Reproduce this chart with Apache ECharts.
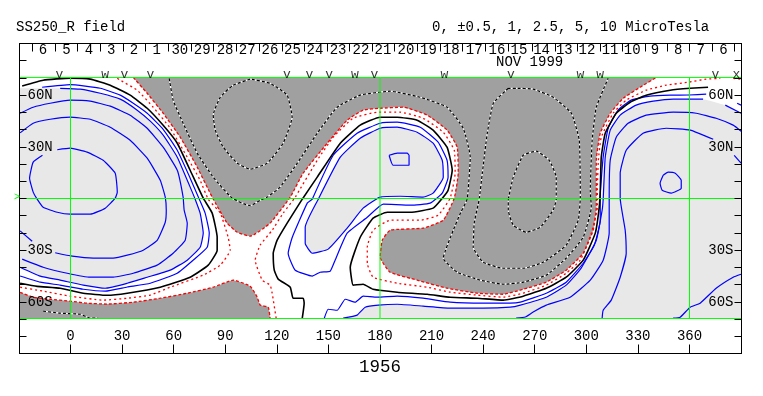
<!DOCTYPE html>
<html>
<head>
<meta charset="utf-8">
<script src="https://cdn.jsdelivr.net/npm/echarts@6/dist/echarts.min.js"></script>
<style>
html, body { margin: 0; padding: 0; background: #fff; }
#chart { width: 763px; height: 396px; }
</style>
</head>
<body>
<div id="chart"></div>
<script>
// axis values
const lonTicks = [0, 30, 60, 90, 120, 150, 180, 210, 240, 270, 300, 330, 360];
const latTicks = [-80, -70, -60, -50, -40, -30, -20, -10, 0, 10, 20, 30, 40, 50, 60, 70, 80];
const latLabels = [-60, -30, 30, 60];
const dayTicks = [-22.3, -8.9, 4.1, 17.3, 30.5, 43.4, 56.8, 70, 83, 96.4, 109.6, 123, 135.9, 149.1, 162.1, 175.3, 188.4, 201.8, 215, 228, 241.2, 254.4, 268.7, 281.7, 294.7, 307.9, 321, 334, 347, 359.8, 373, 386];
const dayLons = [-16.05, -2.3, 10.7, 23.6, 36.9, 50.2, 63.6, 76.6, 89.9, 102.8, 116, 129.1, 142.2, 155.6, 168.9, 181.7, 195.1, 208.2, 221.4, 234.8, 248, 260.8, 274, 287.2, 300.4, 313.8, 326.7, 339.9, 353.5, 366.5, 379.8];
const dayNames = [6, 5, 4, 3, 2, 1, 30, 29, 28, 27, 26, 25, 24, 23, 22, 21, 20, 19, 18, 17, 16, 15, 14, 13, 12, 11, 10, 9, 8, 7, 6];
const stationLons = [-6.4, 20.2, 31.4, 46.4, 125.9, 139, 150.5, 165.4, 176.8, 217.5, 256.1, 296.6, 308, 375.1, 387.3];
const stationMarks = ["v", "w", "v", "v", "v", "v", "v", "w", "v", "w", "v", "w", "w", "v", "x"];

// contours, [lon, lat]
const blueLeft1 = [[-16.3,25.1],[-21.7,21.1],[-23.8,11.8],[-21.7,3.7],[-19.4,-0.4],[-15.9,-5.1],[-7.7,-8],[-0.2,-9.1],[11.5,-9.1],[20.2,-5.6],[26,0.2],[27.2,3.7],[26,14.7],[19,22.2],[9.7,26.9],[-0.2,29.2],[-7.7,28.3]];
const blueLeft2 = [[-29.3,38.1],[-21.7,43.7],[-11.8,46],[-0.2,47.2],[11.5,46],[23.1,41.4],[34.7,33.8],[44.6,23.4],[52.2,10.6],[55.1,0.8],[55.7,-6.8],[55.1,-13.8],[50.4,-24.3],[42.3,-30],[33,-32.9],[24.8,-34.6],[13.2,-34.6],[1,-33.5],[-8.9,-31.5]];
const blueLeft2b = [[-29.3,-18.8],[-22.3,-24.8]];
const blueLeft3 = [[-29.3,49.5],[-21.7,53],[-11.8,55.3],[-0.2,57.1],[11.5,56.5],[23.1,53.6],[34.7,48.4],[44.6,40.8],[53.9,29.8],[62.1,16.4],[65.5,0.8],[66.1,-6.8],[67.9,-14.3],[66.7,-24.2],[59.7,-31.8],[50.4,-38.7],[36.5,-43.4],[24.8,-45.7],[11.5,-45.7],[-1.9,-43.4],[-15.9,-39.9],[-28.1,-35.2]];
const blueLeftOuter = [[-16.5,64.6],[-0.2,66.1],[17.3,64],[28.9,60],[36.5,55.3],[44.6,49.5],[53.9,40.2],[62.1,28],[69.6,11.8],[74.9,-0.4],[78.3,-8.5],[80.7,-20.1],[79.5,-28.3],[71.4,-35.8],[62.1,-43.4],[46.4,-49.2],[33,-51.4],[20.2,-53.8],[7.4,-52.7],[-6,-50.3],[-17.6,-48.6],[-29.3,-45]];
const blueLeftInner = [[-6,64],[5.6,63.5],[17.3,61.1],[28.9,57.7],[38.8,51.3],[46.4,44.9],[53.9,36.8],[62.1,24],[69.6,6.6],[72.5,-0.4],[75.4,-8.5],[77.2,-20.1],[75.4,-28.3],[67.9,-35.8],[58,-41.6],[44.6,-45.7],[33,-49.2],[20.2,-52.1],[7.4,-50.3],[-6,-47.4],[-17.6,-45.1],[-29.3,-39.9]];
const blackLeft = [[-28.1,65.3],[-15.9,68.7],[-0.2,69.9],[11.5,69.3],[23.1,65.8],[34.7,60],[44.6,52.4],[53.9,42.5],[62.1,32.1],[69.6,16.4],[77.2,0.2],[82.4,-8.5],[85.3,-22.5],[85.3,-30],[80.1,-38.7],[69.6,-45.7],[52.2,-51.5],[33,-55],[21.3,-56.2],[7.4,-55],[-6,-52.1],[-19.4,-51],[-29.3,-49.2]];
const redLeft = [[27.2,69.8],[28.9,68.7],[38.8,62.9],[48.1,53],[58,40.8],[67.9,24],[75.4,10.6],[80.1,-0.4],[87.1,-8.5],[91.7,-22.5],[92.9,-30],[87.1,-38.7],[77.2,-44.5],[58,-51.5],[46.4,-56.1],[33,-57.9],[19,-59],[-0.2,-56.7],[-15.9,-53.8],[-29.3,-51.5]];
const redMid = [[119.6,-69.5],[117.3,-55],[116.1,-50.3],[111.5,-47.4],[107.4,-35.8],[110.3,-27.1],[117.3,-18.4],[123.7,-8.5],[130.7,0.8],[143.5,22.2],[152.8,35.6],[164.4,46.6],[178.4,50.1],[191.8,50.1],[205.1,46.6],[216.8,38.5],[223.2,28],[223.7,14.7],[220.8,0.2],[213.8,-9.7],[203.4,-12.6],[185.9,-12.6],[176,-18.4],[172.6,-28.3],[172.6,-37.6],[176,-45.7],[190,-49.2],[207.5,-51.5],[220.8,-54.4],[236.5,-56.1],[251.7,-57.3],[263.3,-55],[276.7,-50.3],[288.3,-43.4],[296.5,-35.8],[302.9,-20.1],[306.4,-5.1],[306.4,4.8],[307,22.2],[308.7,35.6],[315.6,49.5],[323.2,57.1],[334.8,62.9],[346.5,65.8],[359.2,67.5],[369.7,69.3],[377.9,69.8]];
const redCorner = [[385.4,69.8],[390,69.3]];
const darkEdge = [[36.5,70.3],[44.6,61.1],[53.9,49.5],[63.8,35.6],[73.7,18.2],[82.4,0.8],[91.1,-14.3],[97,-19.6],[104.5,-21.9],[116.1,-14.3],[127.8,0.8],[135.3,14.7],[149.3,32.1],[160.9,45.5],[170.2,51.3],[180.1,52.4],[193.5,53],[207.5,48.4],[219,39.7],[224.9,29.8],[225.5,14.7],[223.2,0.2],[216.8,-12.6],[205.1,-17.2],[185.9,-18.4],[181.3,-24.2],[180.1,-34.1],[185.9,-42.8],[201.6,-47.4],[219,-52.1],[236.5,-55],[251.7,-55.6],[263.3,-52.7],[276.7,-48.6],[288.3,-41.6],[298.2,-31.8],[304,-18.4],[305.8,-5.1],[305.8,4.8],[305.8,22.2],[308.1,37.9],[313.9,49.5],[321.5,58.2],[331.3,64.6],[340.7,70.3]];
const darkEdgeLow = [[-29.3,-54.5],[-21.7,-57.3],[-11.8,-58.5],[-0.2,-59.6],[9.7,-60.8],[21.3,-61.3],[36.5,-60.2],[52.2,-57.9],[67.9,-55],[83,-51.5],[94.6,-47.4],[104.5,-50.9],[108.6,-57.3],[110.3,-61.9],[115,-63.1],[116.1,-69.7]];
const blackMid = [[134.8,-69.5],[135.9,-60.8],[135.3,-57.9],[129.5,-57.9],[127.8,-51.5],[120.8,-46.8],[118.5,-41.6],[117.9,-31.8],[120.2,-24.2],[126,-14.3],[134.8,-0.4],[143.5,12.4],[156.9,32.1],[168.5,42.6],[180.1,47.2],[190,47.2],[201.6,45.5],[210.9,39.7],[219,29.8],[222,16.4],[219.6,4.8],[216.8,0.8],[210.9,-5.6],[197.6,-8],[184.2,-8],[176,-11.4],[168.5,-22.5],[162.7,-39.9],[164.4,-50.3],[170.2,-49.8],[176,-52.7],[190,-54.4],[207.5,-55.6],[220.8,-57.3],[236.5,-57.9],[251.7,-59],[263.3,-56.7],[276.7,-52.1],[288.3,-45.7],[298.2,-35.8],[305.2,-20.1],[307.5,-5.1],[308.1,4.8],[308.7,24],[311,37.9],[317.4,49.5],[325.5,55.9],[334.8,60],[348.8,62.9],[360.4,64],[370.8,64.6]];
const blueRightOuter = [[147.6,-69.5],[149.9,-64.3],[155.1,-64.9],[159.8,-58.5],[165.6,-60.2],[170.2,-56.7],[178.4,-57.3],[190,-56.7],[205.1,-57.9],[220.8,-60.2],[240,-60.8],[255.7,-60.8],[261.6,-60.2],[276.7,-55],[288.3,-48.6],[298.2,-37.6],[304.6,-27.1],[308.1,-12.6],[308.1,0.8],[309.8,24],[312.7,40.8],[318.5,51.3],[326.1,57.1],[337.1,59.4],[348.8,60],[359.8,60.1],[369.7,60.6]];
const blueRightOuterB = [[387.7,55.3],[390,54.2]];
const blueRightInner = [[158.6,-69.5],[166.7,-67.7],[171.4,-63.1],[179,-61.9],[190,-61.4],[205.1,-62.5],[220.8,-63.7],[240,-63.7],[255.7,-63.1],[261.6,-61.9],[276.7,-57.3],[288.3,-50.3],[297,-40.4],[305.8,-24.2],[309.2,-6.8],[309.8,-0.4],[311,24],[313.9,39.7],[319.7,48.4],[329,54.2],[338.9,56.5],[350.5,57.7],[367.9,57.7]];
const blueRightInnerB = [[380.8,54.2],[390,49.5]];
const blueRight3 = [[259.2,-69.5],[264.5,-68.8],[269.1,-65.9],[276.7,-61.9],[290.6,-57.3],[302.3,-47.4],[309.8,-35.8],[313.3,-20.1],[313.3,-0.4],[313.9,22.2],[317.4,35.6],[324.3,43.7],[334.8,48.4],[350.5,50.1],[363.9,49.5],[375.5,46.6],[385.4,42.6],[390,39.1]];
const blueRight4 = [[309.2,-69.5],[309.8,-64.9],[314.5,-59],[319.7,-45.7],[323.2,-31.8],[322.6,-18.4],[319.7,0.2],[319.7,14.7],[323.2,28],[333,37.9],[346.5,40.8],[360.4,39.7],[373.8,34.4]];
const blueRight4b = [[386,25.1],[390,20.5]];
const blueRightLoop = [[344.7,13.5],[342.9,8.9],[344.1,4.8],[349.4,3.1],[355.2,6],[355.2,10.6],[351.7,14.7],[347.6,15.3]];
const blueRightLow = [[350.5,-69.5],[354.6,-68.9],[360.4,-63.1],[366.2,-60.8],[375.5,-52.1],[385.4,-45.7],[390,-44]];
const blueMidInner = [[144.1,-0.4],[156.9,24],[168.5,35],[180.1,40.8],[190,41.4],[201.6,38.5],[210.9,32.1],[216.2,22.2],[216.8,12.4],[210.9,3.1],[205.1,0.8],[191.8,1.3],[180.1,0.8],[170.2,-5.6],[160.9,-17.2],[149.9,-29.4],[140.6,-31.8],[136.5,-26],[136.5,-16.7]];
const blueMidOuter = [[140.6,-0.4],[152.8,25.1],[166.7,37.9],[180.1,43.7],[190,44.3],[203.4,41.4],[213.8,32.7],[219,22.2],[219.6,12.4],[216.2,3.1],[209.2,-2.7],[197.6,-3.9],[181.9,-3.3],[172.6,-10.9],[160.9,-20.1],[153.9,-35.8],[151,-42.2],[145.2,-42.8],[140.6,-45.1],[130.7,-41.6],[127.8,-35.8],[126.6,-31.8],[129,-22.5],[137.7,-2.7]];
const blueMidSmall = [[185.3,25.1],[187.6,19.3],[196.9,19.3],[196.9,25.1],[195.8,26.3],[190,26.3]];
const dashA = [[57.4,69.8],[59.7,57.1],[65.5,43.7],[73.7,26.3],[83,12.4],[94,0.2],[104.5,-4.2],[110.3,-1],[114.4,0.8],[121.9,6.6],[131.9,20.5],[143.5,37.9],[155.1,53],[168.5,60],[185.9,62.3],[203.4,58.8],[219,53],[228.4,40.8],[232.5,24],[230.7,-0.4],[227,-8],[222.6,-18.4],[216.8,-34.7],[224.9,-42.8],[238.3,-47.4],[251.7,-49.8],[263.3,-48.6],[276.7,-44.5],[288.3,-34.7],[298.2,-22.5],[302.9,-5.1],[302.3,4.8],[303.4,33.8],[305.8,53],[312.7,69.8]];
const dashB = [[104.5,69.3],[94.6,65.8],[87.1,58.8],[83,48.4],[84.2,39.7],[88.8,29.8],[97,20.5],[104.5,17],[114.4,20.5],[123.7,32.1],[128.9,47.2],[126,60],[116.1,66.9]];
const dashC = [[254.6,64],[245.9,55.3],[242.4,37.9],[239.5,14.7],[237.7,-0.4],[234.8,-14.3],[234.2,-28.3],[240,-37],[251.7,-40.5],[263.3,-40.5],[274.9,-37],[288.3,-27.1],[295.3,-12.6],[296.5,0.8],[295.9,33.8],[291.3,49.5],[280.7,58.8],[269.1,63.5],[259.2,64]];
const dashD = [[254.6,-0.4],[257.5,12.4],[263.3,25.1],[270.9,27.5],[278.4,22.2],[282.5,12.4],[282.5,-0.4],[280.7,-6.8],[273.2,-16.7],[265,-19.6],[257.5,-15.5],[254.6,-6.8]];
const dashE = [[-15.9,-65.4],[-6,-66.6],[5.6,-67.2],[11.5,-69.5],[16.1,-69.5]];

const bandTop = 70.3;
const bandBottom = -69.7;
const lonMin = -29.66;
const lonMax = 390.25;

const monoFont = "Liberation Mono";
const GREEN = "#00ff00";
const BLUE = "#0000ff";
const RED = "#ff0000";
const CURVE = 0.14;

function loop(pts) {
  return pts.concat([pts[0]]);
}

function fill(pts, color) {
  return {
    type: "custom",
    z: 1,
    silent: true,
    clip: false,
    animation: false,
    data: pts,
    encode: { x: 0, y: 1 },
    renderItem: function (params, api) {
      if (params.dataIndex !== 0) return;
      const coords = pts.map(function (p) { return api.coord(p); });
      return {
        type: "polygon",
        shape: {
          points: coords,
          smooth: CURVE,
          smoothConstraint: [coords[0], coords[0]]
        },
        style: { fill: color }
      };
    }
  };
}

function line(pts, color, width, dash, z) {
  return {
    type: "line",
    z: z || 2,
    data: pts,
    silent: true,
    clip: false,
    animation: false,
    showSymbol: false,
    smooth: CURVE,
    lineStyle: { color: color, width: width, type: dash || "solid", cap: "butt" }
  };
}

const blues = [blueLeft1, blueLeft2, blueLeft2b, blueLeft3, blueLeftOuter, blueLeftInner,
  blueRightOuter, blueRightOuterB, blueRightInner, blueRightInnerB, blueRight3, blueRight4, blueRight4b, blueRightLow,
  loop(blueRightLoop), loop(blueMidInner), loop(blueMidOuter), loop(blueMidSmall)];
const dashes = [dashA, loop(dashB), loop(dashC), loop(dashD), dashE];

const series = [
  fill(darkEdge, "#a0a0a0"),
  fill(darkEdgeLow.concat([[lonMin, bandBottom]]).concat([[lonMin, darkEdgeLow[0][1]]]), "#a0a0a0"),
  fill(blueLeftInner.concat([[lonMin, -39.9], [lonMin, 64]]), "#e8e8e8"),
  fill(blueRightInner.concat(blueRightInnerB).concat([[lonMax, 49.5], [lonMax, bandBottom], [158.6, bandBottom]]), "#e8e8e8"),
  fill(blueMidInner, "#e8e8e8")
];
blues.forEach(function (c) { series.push(line(c, BLUE, 1.2)); });
[blackLeft, blackMid].forEach(function (c) { series.push(line(c, "#000", 1.6)); });
[redLeft, redMid, redCorner].forEach(function (c) { series.push(line(c, RED, 1.3, [2, 3])); });
[darkEdge, darkEdgeLow].forEach(function (c) { series.push(line(c, RED, 1.3, [3, 2])); });
dashes.forEach(function (c) {
  series.push(line(c, "#fff", 1.2));
  series.push(line(c, "#000", 1.2, [3, 2]));
});
// green reference lines
[[[lonMin, bandTop], [lonMax, bandTop]], [[lonMin, 0], [lonMax, 0]], [[lonMin, bandBottom], [lonMax, bandBottom]],
 [[0, bandBottom], [0, bandTop]], [[180, bandBottom], [180, bandTop]], [[360, bandBottom], [360, bandTop]]
].forEach(function (c) {
  const s = line(c, GREEN, 1, "solid", 3);
  s.smooth = false;
  series.push(s);
});
// station marks along the top
series.push({
  type: "scatter",
  z: 4,
  silent: true,
  animation: false,
  symbolSize: 0,
  data: stationLons.map(function (lon, i) { return { value: [lon, 72], name: stationMarks[i] }; }),
  label: {
    show: true,
    position: "inside",
    formatter: "{b}",
    color: "#000",
    fontFamily: monoFont,
    fontSize: 13
  }
});

const labelStyle = { color: "#000", fontFamily: monoFont, fontSize: 14 };

function latName(v) {
  return Math.abs(v) + (v > 0 ? "N" : "S");
}

const option = {
  animation: false,
  backgroundColor: "#fff",
  grid: { left: 19.5, right: 21.5, top: 43.5, bottom: 42.5 },
  title: [
    { text: "SS250_R field", left: 16, top: 20, padding: 0, textStyle: { ...labelStyle, fontWeight: "normal" } },
    { text: "0, ±0.5, 1, 2.5, 5, 10 MicroTesla", left: 432, top: 20, padding: 0, textStyle: { ...labelStyle, fontWeight: "normal" } },
    { text: "NOV 1999", left: 496, top: 55, padding: 0, textStyle: { ...labelStyle, fontWeight: "normal" } },
    { text: "1956", left: 359, top: 358, padding: 0, textStyle: { ...labelStyle, fontSize: 17.5, fontWeight: "normal" } },
    { text: ">", left: 14, top: 192, padding: 0, textStyle: { ...labelStyle, color: GREEN, fontSize: 10, fontWeight: "normal" } }
  ],
  xAxis: [
    {
      type: "value",
      position: "bottom",
      min: lonMin,
      max: lonMax,
      z: 5,
      splitLine: { show: false },
      axisLine: { show: true, onZero: false, lineStyle: { color: "#000" } },
      axisTick: { show: true, inside: true, length: 9, customValues: lonTicks, lineStyle: { color: "#000" } },
      axisLabel: { show: true, inside: true, margin: 10, customValues: lonTicks, ...labelStyle }
    },
    {
      type: "value",
      position: "top",
      min: lonMin,
      max: lonMax,
      z: 5,
      splitLine: { show: false },
      axisLine: { show: true, onZero: false, lineStyle: { color: "#000" } },
      axisTick: { show: true, inside: true, length: 8, customValues: dayTicks, lineStyle: { color: "#000" } },
      axisLabel: {
        show: true,
        inside: true,
        margin: 0,
        customValues: dayLons,
        formatter: function (v) { return String(dayNames[dayLons.indexOf(v)]); },
        ...labelStyle
      }
    }
  ],
  yAxis: [
    {
      type: "value",
      position: "left",
      min: -90,
      max: 90,
      z: 5,
      splitLine: { show: false },
      axisLine: { show: true, onZero: false, lineStyle: { color: "#000" } },
      axisTick: { show: true, inside: true, length: 7, customValues: latTicks, lineStyle: { color: "#000" } },
      axisLabel: { show: true, inside: true, margin: 8, customValues: latLabels, formatter: latName, ...labelStyle }
    },
    {
      type: "value",
      position: "right",
      min: -90,
      max: 90,
      z: 5,
      splitLine: { show: false },
      axisLine: { show: true, onZero: false, lineStyle: { color: "#000" } },
      axisTick: { show: true, inside: true, length: 7, customValues: latTicks, lineStyle: { color: "#000" } },
      axisLabel: { show: true, inside: true, margin: 8, customValues: latLabels, formatter: latName, ...labelStyle }
    }
  ],
  series: series
};

const myChart = echarts.init(document.getElementById("chart"), null, { renderer: "canvas" });
myChart.setOption(option);
</script>
</body>
</html>
